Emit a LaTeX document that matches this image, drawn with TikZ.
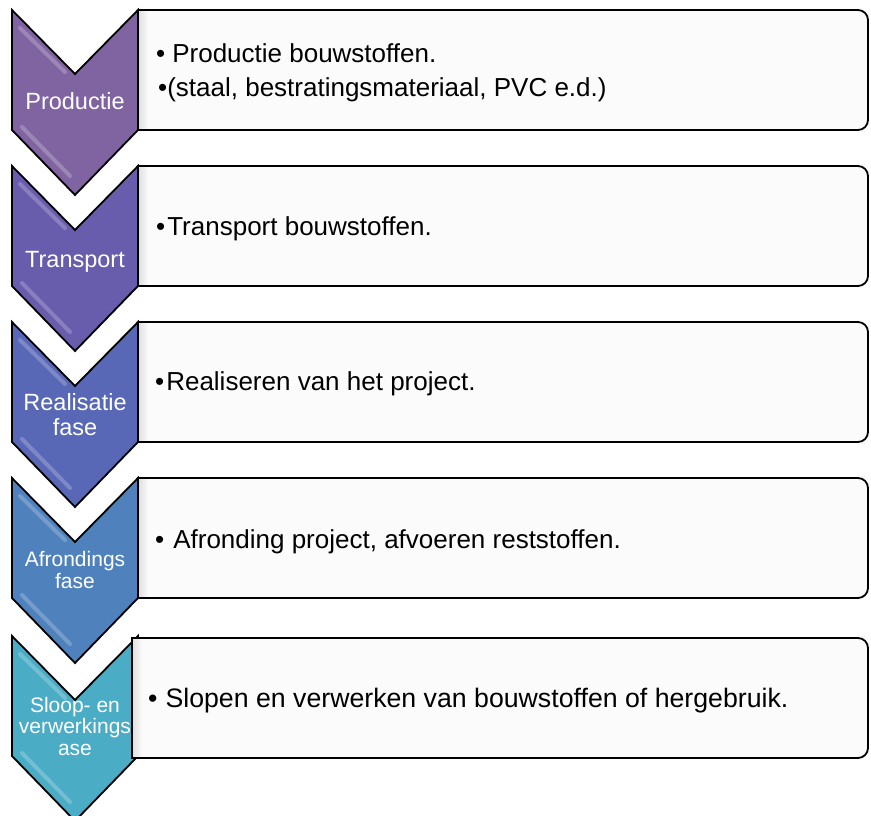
\documentclass[tikz,border=0pt]{standalone}
\usepackage{fontspec}
\setmainfont{Liberation Sans}
\definecolor{phaseA}{RGB}{128,100,162}
\definecolor{phaseB}{RGB}{104,92,172}
\definecolor{phaseC}{RGB}{88,104,182}
\definecolor{phaseD}{RGB}{79,129,189}
\definecolor{phaseE}{RGB}{75,172,198}
\definecolor{boxfill}{RGB}{251,251,251}
\begin{document}
\begin{tikzpicture}[x=1pt, y=-1pt]
      \tikzset{phase/.style={draw=black, fill, line width=1.8pt, line join=miter},
               gloss/.style={draw=white, opacity=.22, line width=4pt, line cap=round},
               boxline/.style={draw=black, line width=1.8pt},
               chevron/.pic={
                 \path[phase] (0,0) -- (63,64) -- (126,0) -- (126,120) -- (63,185) -- (0,120) -- cycle;
                 \path[gloss] (8,18) -- (53,62);
                 \path[gloss] (10,117) -- (58,166);
               },
               pics/infobox/.style={code={
                 \fill[boxfill] (0,0) -- (#1-20,0) [rounded corners=10pt] -- (#1,0) -- (#1,120) -- (#1-20,120) [sharp corners] -- (0,120) -- cycle;
                 \shade[left color=black!13, right color=boxfill] (0,0) rectangle (10,120);
                 \path[boxline] (0,0) -- (#1-20,0) [rounded corners=10pt] -- (#1,0) -- (#1,120) -- (#1-20,120) [sharp corners] -- (0,120) -- cycle;
               }},
               phasename/.style={text=white, align=center, anchor=base, inner sep=0pt},
               item/.style={anchor=base west, inner sep=0pt, font=\fontsize{26}{30}\selectfont}}
      \useasboundingbox (0,0) rectangle (871,816);
%% Text boxes
      \pic at (138,10) {infobox=730};
      \pic at (138,166) {infobox=730};
      \pic at (138,322) {infobox=730};
      \pic at (138,478) {infobox=730};
%% Chevrons
      \pic[fill=phaseA] at (12,10) {chevron};
      \pic[fill=phaseB] at (12,166) {chevron};
      \pic[fill=phaseC] at (12,322) {chevron};
      \pic[fill=phaseD] at (12,478) {chevron};
      \pic[fill=phaseE] at (12,636) {chevron};
      \pic at (132,638) {infobox=736};
%% Phase names (base = last line)
      \node[phasename, font=\fontsize{23.5}{25}\selectfont] (p1) at (75,110) {Productie};
      \node[phasename, font=\fontsize{23.5}{25}\selectfont] (p2) at (75,267) {Transport};
      \node[phasename, font=\fontsize{23.5}{25}\selectfont] (p3) at (75,435) {Realisatie\\fase};
      \node[phasename, font=\fontsize{21}{21.5}\selectfont] (p4) at (75,588) {Afrondings\\fase};
      \node[phasename, font=\fontsize{21}{21.5}\selectfont] (p5) at (75,755) {Sloop- en\\verwerkings\\ase};
%% Descriptions
      \node[item] (t1) at (156,63) {\textbullet\hspace{7pt}Productie bouwstoffen.};
      \node[item] (t1b) at (158,96) {\textbullet(staal, bestratingsmateriaal, PVC e.d.)};
      \node[item] (t2) at (156,235) {\textbullet\hspace{2pt}Transport bouwstoffen.};
      \node[item] (t3) at (155,390) {\textbullet\hspace{2pt}Realiseren van het project.};
      \node[item] (t4) at (155,548) {\textbullet\hspace{9pt}Afronding project, afvoeren reststoffen.};
      \node[item, font=\fontsize{26.7}{30}\selectfont] (t5) at (148,707) {\textbullet\hspace{8pt}Slopen en verwerken van bouwstoffen of hergebruik.};
\end{tikzpicture}
\end{document}
